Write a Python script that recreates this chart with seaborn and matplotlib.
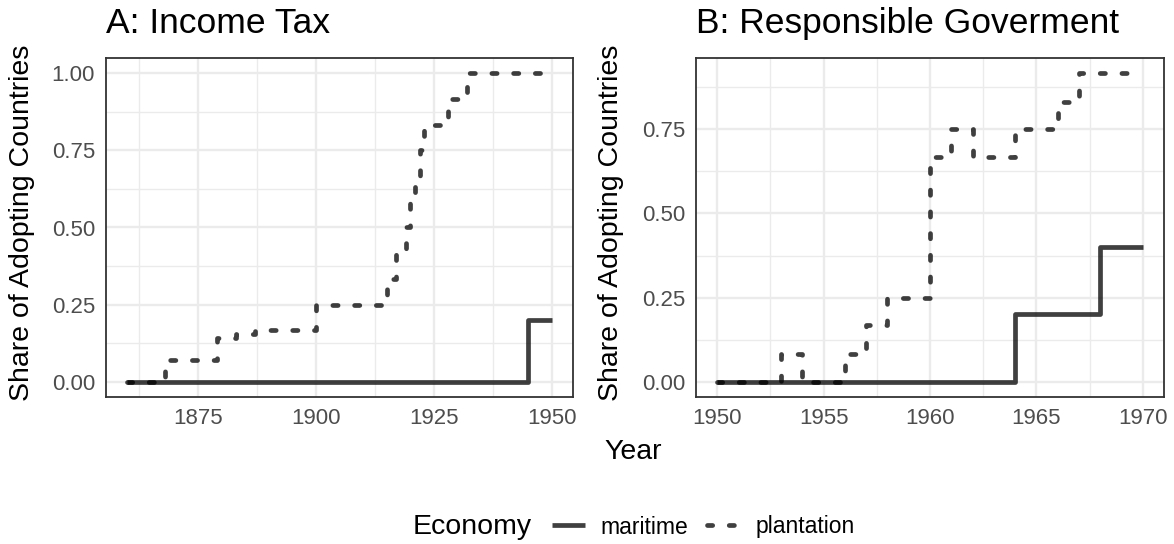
import numpy as np
import pandas as pd
import matplotlib
matplotlib.use("Agg")
import matplotlib.pyplot as plt
from matplotlib.ticker import FixedLocator
from matplotlib.lines import Line2D
import seaborn as sns

# A: Income Tax
tax_maritime_year = [1860, 1945, 1950]
tax_maritime_share = [0.0, 0.2, 0.2]
tax_plantation_year = [1860, 1868, 1879, 1883, 1887, 1900, 1915, 1917, 1919,
                       1920, 1921, 1922, 1923, 1928, 1932, 1950]
tax_plantation_share = [0.0, 0.071, 0.143, 0.154, 0.167, 0.25, 0.333, 0.417, 0.5,
                        0.583, 0.667, 0.75, 0.833, 0.917, 1.0, 1.0]

# B: Responsible Goverment
gov_maritime_year = [1950, 1964, 1968, 1970]
gov_maritime_share = [0.0, 0.2, 0.4, 0.4]
gov_plantation_year = [1950, 1953, 1954, 1956, 1957, 1958, 1960, 1961, 1962,
                       1964, 1966, 1967, 1970]
gov_plantation_share = [0.0, 0.083, 0.0, 0.083, 0.167, 0.25, 0.667, 0.75, 0.667,
                        0.75, 0.833, 0.917, 0.917]

economies = ["maritime", "plantation"]
dash_plant = (1.1, 3.5)
line_kw = dict(color="black", alpha=0.75, lw=3.4)


def make_df(mar_x, mar_y, pla_x, pla_y):
    a = pd.DataFrame({"year": mar_x, "share": mar_y, "economy": "maritime"})
    b = pd.DataFrame({"year": pla_x, "share": pla_y, "economy": "plantation"})
    return pd.concat([a, b], ignore_index=True)


def style_axes(ax, xmaj, xmin, ymaj, ymin):
    ax.xaxis.set_major_locator(FixedLocator(xmaj))
    ax.xaxis.set_minor_locator(FixedLocator(xmin))
    ax.yaxis.set_major_locator(FixedLocator(ymaj))
    ax.yaxis.set_minor_locator(FixedLocator(ymin))
    ax.set_yticklabels([f"{v:.2f}" for v in ymaj])
    ax.grid(which="major", color="#EBEBEB", lw=1.7)
    ax.grid(which="minor", color="#EBEBEB", lw=1.0)
    ax.set_axisbelow(True)
    ax.tick_params(which="major", length=5, width=1.2, color="#333333",
                   labelsize=16, labelcolor="#4D4D4D", pad=3)
    ax.tick_params(which="minor", length=0)
    for s in ax.spines.values():
        s.set_color("#333333")
        s.set_linewidth(1.3)
    ax.set_xlabel("")
    ax.set_ylabel("")


sns.set_style("white")
plt.rcParams["font.family"] = ["Liberation Sans", "DejaVu Sans"]
plt.rcParams["text.color"] = "black"

fig = plt.figure(figsize=(11.74, 5.44), dpi=100)
W, H = 1174, 544
axA = fig.add_axes([106 / W, 1 - 397 / H, (573 - 106) / W, (397 - 58) / H])
axB = fig.add_axes([696 / W, 1 - 397 / H, (1164 - 696) / W, (397 - 58) / H])

panels = [
    (axA, make_df(tax_maritime_year, tax_maritime_share, tax_plantation_year, tax_plantation_share)),
    (axB, make_df(gov_maritime_year, gov_maritime_share, gov_plantation_year, gov_plantation_share)),
]
for ax, df in panels:
    sns.lineplot(data=df, x="year", y="share", style="economy", style_order=economies,
                 dashes={"maritime": "", "plantation": dash_plant},
                 drawstyle="steps-post", estimator=None, legend=False, ax=ax,
                 dash_capstyle="round", solid_capstyle="butt", **line_kw)

axA.set_xlim(1855.5, 1954.5)
axA.set_ylim(-0.05, 1.05)
style_axes(axA, [1875, 1900, 1925, 1950], [1862.5, 1887.5, 1912.5, 1937.5],
           [0, 0.25, 0.5, 0.75, 1.0], [0.125, 0.375, 0.625, 0.875])

axB.set_xlim(1949, 1971)
axB.set_ylim(-0.0458, 0.9625)
style_axes(axB, [1950, 1955, 1960, 1965, 1970], [1952.5, 1957.5, 1962.5, 1967.5],
           [0, 0.25, 0.5, 0.75], [0.125, 0.375, 0.625, 0.875])

# titles and axis labels
fig.text(106 / W, 1 - 33 / H, "A: Income Tax", fontsize=25.5, va="baseline", ha="left")
fig.text(696 / W, 1 - 33 / H, "B: Responsible Goverment", fontsize=25.5, va="baseline", ha="left")
fig.text(22 / W, 1 - 223 / H, "Share of Adopting Countries", fontsize=20.5,
         rotation=90, va="center", ha="center")
fig.text(611 / W, 1 - 223 / H, "Share of Adopting Countries", fontsize=20.5,
         rotation=90, va="center", ha="center")
fig.text(633 / W, 1 - 452 / H, "Year", fontsize=20.5, va="center", ha="center")

# legend
fig.text(413 / W, 1 - 527 / H, "Economy", fontsize=20.5, va="center", ha="left")
handles = [
    Line2D([], [], solid_capstyle="butt", **line_kw),
    Line2D([], [], linestyle=(0, dash_plant), dash_capstyle="round", **line_kw),
]
fig.legend(handles, economies, loc="center left", bbox_to_anchor=(552 / W, 1 - 527 / H),
           ncol=2, frameon=False, fontsize=16.5, handlelength=1.45,
           handletextpad=0.65, columnspacing=0.85, borderaxespad=0, borderpad=0)

fig.savefig("out.png", dpi=100)
